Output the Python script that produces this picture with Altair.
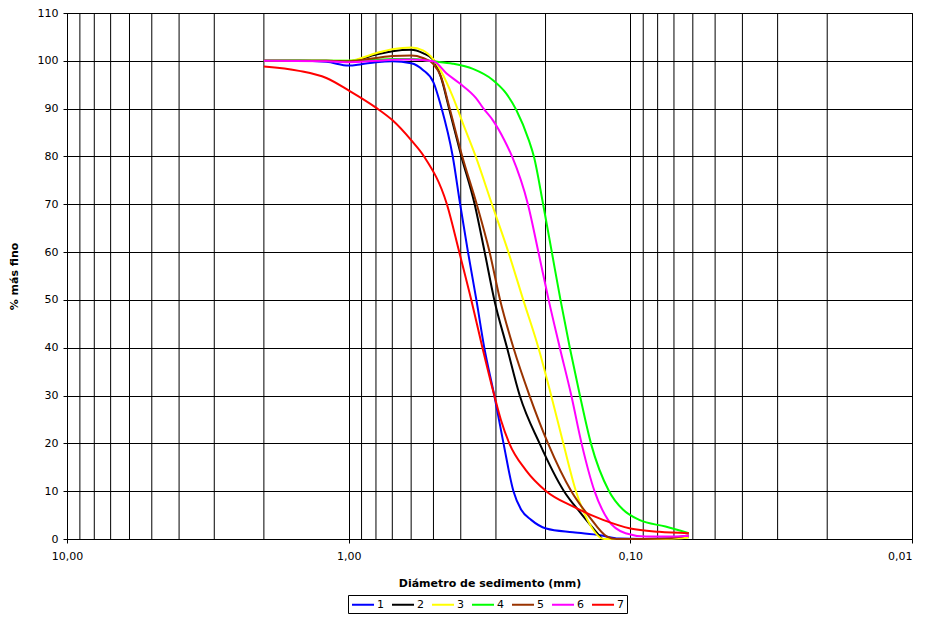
import altair as alt
import pandas as pd

# ---------------- data ----------------
series_names = ["1", "2", "3", "4", "5", "6", "7"]
series_colors = ["#0000FF", "#000000", "#FFFF00", "#00FF00", "#993300", "#FF00FF", "#FF0000"]

d1 = [2.0, 1.5, 1.2, 1.0, 0.9, 0.8, 0.7, 0.6, 0.545, 0.5, 0.47, 0.427, 0.402, 0.377, 0.352,
      0.330, 0.304, 0.282, 0.26, 0.244, 0.225, 0.199, 0.16, 0.128, 0.11, 0.09, 0.075, 0.062]
p1 = [100, 100, 99.8, 99.0, 99.3, 99.7, 99.9, 99.5, 98.1, 95.5, 90.5, 80, 70, 60, 50,
      40, 30, 20, 10, 6.1, 4.0, 2.2, 1.4, 0.8, 0.1, 0, 0.1, 0.4]

d2 = [2.0, 1.2, 1.0, 0.8, 0.7, 0.6, 0.545, 0.5, 0.47, 0.44, 0.398, 0.357, 0.329, 0.304, 0.274,
      0.247, 0.21, 0.172, 0.15, 0.126]
p2 = [100, 100, 99.9, 101.3, 102.0, 102.3, 101.6, 100.2, 96.5, 90, 80, 70, 60, 50, 40,
      30, 20, 10, 5.4, 0]

d3 = [2.0, 1.2, 1.0, 0.8, 0.7, 0.6, 0.545, 0.5, 0.47, 0.427, 0.393, 0.354, 0.31, 0.271, 0.24,
      0.212, 0.191, 0.173, 0.156, 0.142, 0.124, 0.1, 0.075, 0.062]
p3 = [100, 100, 100, 101.6, 102.4, 102.8, 102.2, 100.3, 97.8, 92.5, 86.9, 80, 70, 60, 50,
      40, 30, 20, 10, 4, 0, 0, 0, 0.3]

d4 = [2.0, 1.2, 1.0, 0.8, 0.7, 0.6, 0.5, 0.427, 0.362, 0.308, 0.276, 0.254, 0.229, 0.22, 0.204,
      0.19, 0.177, 0.164, 0.151, 0.138, 0.119, 0.106, 0.093, 0.075, 0.062]
p4 = [100, 100, 100, 100.2, 100.4, 100.4, 99.9, 99.4, 98.3, 96.0, 93.2, 89.7, 83.3, 80, 70,
      60, 50, 40, 30, 20, 10, 6.1, 4.0, 2.6, 1.2]

d5 = [2.0, 1.2, 1.0, 0.8, 0.7, 0.6, 0.545, 0.5, 0.47, 0.44, 0.395, 0.351, 0.316, 0.29, 0.26,
      0.228, 0.196, 0.162, 0.14, 0.121, 0.112, 0.09, 0.075, 0.062]
p5 = [100, 100, 99.9, 100.6, 101.0, 101.1, 100.6, 99.3, 96.7, 90.5, 80, 70, 60, 50, 40,
      30, 20, 10, 4.7, 0.5, 0, 0, 0.1, 0.8]

d6 = [2.0, 1.2, 1.0, 0.8, 0.7, 0.6, 0.5, 0.45, 0.404, 0.353, 0.332, 0.308, 0.28, 0.263, 0.231,
      0.212, 0.195, 0.178, 0.162, 0.149, 0.134, 0.12, 0.104, 0.088, 0.075, 0.062]
p6 = [100, 99.9, 99.7, 100, 100.2, 100.3, 99.9, 97.4, 95.3, 92.2, 90, 87.6, 83.4, 80, 70,
      60, 50, 40, 30, 20, 10, 4, 1.2, 0.5, 0.5, 0.7]

d7 = [2.0, 1.5, 1.2, 1.0, 0.8, 0.7, 0.6, 0.54, 0.448, 0.405, 0.367, 0.335, 0.304, 0.288, 0.269,
      0.235, 0.199, 0.16, 0.125, 0.1, 0.079, 0.062]
p7 = [98.8, 97.9, 96.4, 93.8, 90.2, 87.6, 83.4, 80, 70, 60, 50, 40, 30, 24.9, 20,
      14.4, 10, 6.8, 4.0, 2.2, 1.5, 1.2]

x_ticks = [10, 1, 0.1, 0.01]
x_minor_grid = [9, 8, 7, 6, 5, 4, 3, 2,
                0.9, 0.8, 0.7, 0.6, 0.5, 0.4, 0.3, 0.2,
                0.09, 0.08, 0.07, 0.06, 0.05, 0.04, 0.03, 0.02]
y_ticks = [0, 10, 20, 30, 40, 50, 60, 70, 80, 90, 100, 110]

rows = []
for name, ds, ps in zip(series_names, [d1, d2, d3, d4, d5, d6, d7], [p1, p2, p3, p4, p5, p6, p7]):
    for d, p in zip(ds, ps):
        rows.append({"serie": name, "d": d, "pct": p})
df = pd.DataFrame(rows)
grid_df = pd.DataFrame({"d": x_minor_grid})

FONT = "DejaVu Sans"
x_scale = alt.Scale(type="log", domain=[0.01, 10], reverse=True, nice=False)
x_axis = alt.Axis(values=x_ticks,
                  labelExpr="replace(format(datum.value, '.2f'), '.', ',')",
                  labelAlign={"condition": {"test": "datum.value < 0.05", "value": "right"},
                              "value": "center"},
                  title="Diámetro de sedimento (mm)",
                  grid=True, gridColor="black", gridWidth=1, gridOpacity=1,
                  domainColor="black", tickColor="black", tickSize=4,
                  labelFlush=False, labelPadding=7, labelFont=FONT, labelFontSize=11,
                  labelColor="black",
                  titleFont=FONT, titleFontSize=11, titleFontWeight="bold",
                  titleColor="black", titlePadding=16)

grid = alt.Chart(grid_df).mark_rule(color="black", strokeWidth=1).encode(
    x=alt.X("d:Q", scale=x_scale, axis=x_axis)
)

lines = alt.Chart(df).mark_line(strokeWidth=2, interpolate="monotone").encode(
    x=alt.X("d:Q", scale=x_scale, axis=x_axis),
    y=alt.Y("pct:Q", scale=alt.Scale(domain=[0, 110], nice=False, zero=True),
            axis=alt.Axis(values=y_ticks, title="% más fino",
                          grid=True, gridColor="black", gridWidth=1, gridOpacity=1,
                          domainColor="black", tickColor="black", tickSize=4,
                          labelPadding=5, labelFont=FONT, labelFontSize=11, labelColor="black",
                          titleFont=FONT, titleFontSize=11, titleFontWeight="bold",
                          titleColor="black", titlePadding=18)),
    color=alt.Color("serie:N",
                    scale=alt.Scale(domain=series_names, range=series_colors),
                    legend=alt.Legend(orient="none", legendX=281, legendY=582,
                                      direction="horizontal", title=None,
                                      strokeColor="black", fillColor="white", padding=3,
                                      symbolType="M-1,0H3", symbolSize=121,
                                      symbolStrokeWidth=2, labelOffset=13, columnPadding=4,
                                      labelFont=FONT, labelFontSize=11, labelColor="black")),
)

chart = alt.layer(grid, lines).properties(
    width=845, height=526,
    autosize=alt.AutoSizeParams(type="none"),
    padding={"left": 59, "top": 5, "right": 5, "bottom": 75},
).configure_view(stroke="black", strokeWidth=1)

chart.save("out.html", embed_options={"renderer": "svg", "actions": False})
